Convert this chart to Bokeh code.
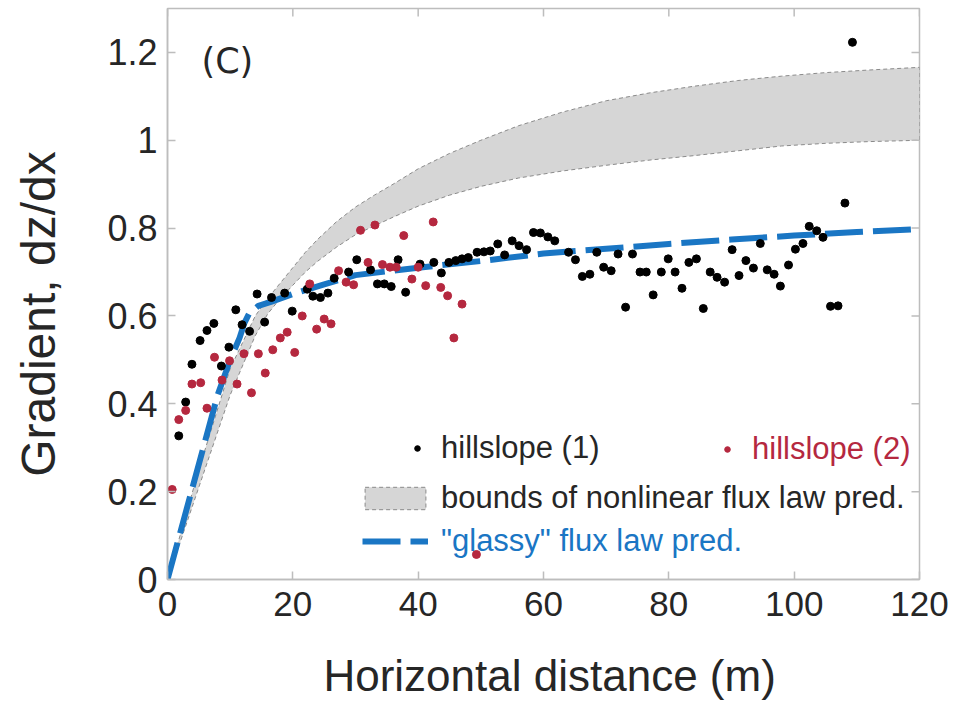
from bokeh.plotting import figure
from bokeh.models import (Range1d, FixedTicker, Label, Legend, LegendItem,
                          NumeralTickFormatter)
from bokeh.embed import file_html
from bokeh.resources import INLINE

# ---------------- data ----------------
x_ticks = [0, 20, 40, 60, 80, 100, 120]
y_ticks = [0, 0.2, 0.4, 0.6, 0.8, 1, 1.2]
y_tick_labels = ["0", "0.2", "0.4", "0.6", "0.8", "1", "1.2"]

h1_x = [1.8, 2.9, 3.9, 5.2, 6.3, 7.4, 8.6, 9.8, 10.9, 11.9, 13.1, 14.3, 15.5,
        16.6, 18.7, 19.9, 22.3, 23.2, 24.4, 25.6, 26.6, 28.9, 30.2, 32.4, 33.5,
        34.6, 35.7, 36.8, 38.0, 40.3, 42.5, 43.7, 44.9, 46.0, 47.0, 48.0, 49.4,
        50.5, 51.5, 52.7, 53.8, 55.0, 56.1, 57.3, 58.4, 59.5, 60.7, 61.8, 64.0,
        65.1, 66.2, 67.4, 68.5, 69.6, 70.8, 71.9, 73.1, 74.2, 75.4, 76.4, 77.5,
        78.8, 79.9, 81.0, 82.1, 83.2, 84.4, 85.5, 86.6, 87.7, 88.9, 90.1, 91.2,
        92.3, 93.5, 94.6, 95.7, 96.8, 97.8, 99.1, 100.2, 101.4, 102.4, 103.6,
        104.6, 105.8, 107.0, 108.1, 109.3]
h1_y = [0.327, 0.404, 0.49, 0.544, 0.567, 0.583, 0.486, 0.529, 0.614, 0.58,
        0.565, 0.65, 0.586, 0.642, 0.652, 0.611, 0.661, 0.645, 0.642, 0.652,
        0.686, 0.70, 0.728, 0.705, 0.673, 0.673, 0.667, 0.728, 0.654, 0.718,
        0.722, 0.698, 0.722, 0.726, 0.73, 0.733, 0.745, 0.746, 0.748, 0.764,
        0.739, 0.771, 0.76, 0.751, 0.79, 0.789, 0.78, 0.771, 0.745, 0.728,
        0.69, 0.695, 0.745, 0.711, 0.703, 0.741, 0.62, 0.741, 0.70, 0.70,
        0.648, 0.70, 0.73, 0.70, 0.663, 0.722, 0.73, 0.617, 0.70, 0.688,
        0.677, 0.751, 0.692, 0.726, 0.709, 0.765, 0.705, 0.695, 0.668, 0.716,
        0.752, 0.765, 0.804, 0.794, 0.779, 0.622, 0.623, 0.857, 1.223]

h2_x = [0.75, 1.8, 2.9, 3.9, 5.3, 6.3, 7.5, 8.7, 9.9, 11.1, 12.2, 13.4, 14.5,
        15.6, 16.8, 18.0, 19.1, 20.3, 21.5, 22.7, 23.8, 25.0, 26.1, 27.3, 28.5,
        29.7, 30.8, 32.0, 33.1, 34.3, 35.5, 36.5, 37.7, 39.0, 40.0, 41.2, 42.4,
        43.6, 44.7, 45.7, 47.0, 49.3]
h2_y = [0.205, 0.364, 0.385, 0.445, 0.448, 0.39, 0.506, 0.454, 0.498, 0.445,
        0.514, 0.425, 0.514, 0.47, 0.523, 0.55, 0.563, 0.517, 0.60, 0.673,
        0.57, 0.593, 0.582, 0.703, 0.677, 0.671, 0.795, 0.722, 0.807, 0.717,
        0.711, 0.711, 0.783, 0.684, 0.711, 0.669, 0.814, 0.665, 0.646, 0.55,
        0.627, 0.057]

band_x = [0, 5, 10, 14, 16, 18, 20, 22, 24, 27, 30, 33, 36, 40, 45, 50, 56,
          63, 70, 77, 84, 91, 98, 105, 112, 120]
band_upper = [0, 0.25, 0.48, 0.6, 0.64, 0.675, 0.71, 0.745, 0.775, 0.815,
              0.848, 0.875, 0.9, 0.935, 0.97, 1.0, 1.033, 1.064, 1.09, 1.108,
              1.123, 1.136, 1.146, 1.154, 1.16, 1.166]
band_lower = [0, 0.21, 0.42, 0.555, 0.605, 0.64, 0.67, 0.7, 0.725, 0.757,
              0.785, 0.805, 0.825, 0.85, 0.875, 0.895, 0.914, 0.93, 0.943,
              0.955, 0.965, 0.976, 0.987, 0.993, 0.997, 1.0]

glassy_x = [0, 4, 8, 10, 11.5, 12.3, 13, 14.5, 16.5, 20, 25, 30, 40, 50, 60,
            70, 80, 90, 100, 110, 120]
glassy_y = [0, 0.21, 0.42, 0.5, 0.55, 0.585, 0.605, 0.623, 0.632, 0.65, 0.672,
            0.693, 0.71, 0.725, 0.742, 0.753, 0.764, 0.774, 0.783, 0.791, 0.798]

# ---------------- styling ----------------
FONT = "Liberation Sans"
AX_GRAY = "#bdbdbd"
TXT = "#262626"
RED = "#b5283f"
BLUE = "#1a76c4"
X0, X1, Y0, Y1 = 0, 120, 0, 1.3
FRAME_W, FRAME_H = 752, 574
TICK_PX = 8

p = figure(width=955, height=702, x_range=Range1d(X0, X1),
           y_range=Range1d(Y0, Y1), output_backend="svg",
           toolbar_location=None, min_border_left=167, min_border_right=36,
           min_border_top=8, min_border_bottom=120)
p.background_fill_color = "white"
p.border_fill_color = "white"
p.outline_line_color = AX_GRAY
p.outline_line_width = 1.5
p.grid.visible = False

band_xs = band_x + band_x[::-1]
band_ys = band_upper + band_lower[::-1]
r_band = p.patch(band_xs, band_ys, fill_color="#d6d6d6", line_color="#8a8a8a",
                 line_width=1, line_dash="4 3")
r_glassy = p.line(glassy_x, glassy_y, line_color=BLUE, line_width=6,
                  line_dash="38 10")
r_h1 = p.scatter(h1_x, h1_y, size=8, color="black")
r_h2 = p.scatter(h2_x, h2_y, size=8, color=RED)

# inward ticks on the top and right edges of the box
dy = TICK_PX * (Y1 - Y0) / FRAME_H
dx = TICK_PX * (X1 - X0) / FRAME_W
p.segment(x0=x_ticks, y0=[Y1] * len(x_ticks), x1=x_ticks,
          y1=[Y1 - dy] * len(x_ticks), line_color=AX_GRAY, line_width=1.5)
p.segment(x0=[X1] * len(y_ticks), y0=y_ticks, x1=[X1 - dx] * len(y_ticks),
          y1=y_ticks, line_color=AX_GRAY, line_width=1.5)

# main axes
p.xaxis.ticker = FixedTicker(ticks=x_ticks)
p.yaxis.ticker = FixedTicker(ticks=y_ticks)
p.yaxis.formatter = NumeralTickFormatter(format="0.[0]")
p.yaxis.major_label_overrides = {t: l for t, l in zip(y_ticks, y_tick_labels)}

for ax in list(p.xaxis) + list(p.yaxis):
    ax.axis_line_color = AX_GRAY
    ax.axis_line_width = 1.5
    ax.major_tick_line_color = AX_GRAY
    ax.major_tick_line_width = 1.5
    ax.major_tick_in = TICK_PX
    ax.major_tick_out = 0
    ax.minor_tick_line_color = None
    ax.major_label_text_font = FONT
    ax.major_label_text_color = TXT
    ax.axis_label_text_font = FONT
    ax.axis_label_text_font_style = "normal"
    ax.axis_label_text_color = TXT

p.xaxis.major_label_text_font_size = "35px"
p.xaxis.major_label_standoff = 12
p.xaxis.axis_label = "\u00a0Horizontal distance (m)"
p.xaxis.axis_label_text_font_size = "44px"
p.xaxis.axis_label_standoff = 32

p.yaxis.major_label_text_font_size = "36px"
p.yaxis.major_label_standoff = 10
p.yaxis.axis_label = "Gradient, dz/dx\u00a0\u00a0\u00a0"
p.yaxis.axis_label_text_font_size = "48px"
p.yaxis.axis_label_standoff = 39

p.add_layout(Label(x=34, y=519, x_units="screen", y_units="screen",
                   text="(C)", text_align="left", text_baseline="middle",
                   text_font="DejaVu Sans", text_font_size="35px",
                   text_color=TXT))


def add_legend(label, rend, loc, color, gw, gh, standoff):
    lg = Legend(items=[LegendItem(label=label, renderers=[rend])],
                location=loc, glyph_width=gw, glyph_height=gh,
                label_height=gh, label_standoff=standoff, padding=0,
                margin=0, spacing=0, border_line_color=None,
                background_fill_alpha=0, label_text_font=FONT,
                label_text_font_size="31px", label_text_color=color)
    p.add_layout(lg)


add_legend("hillslope (1)", r_h1, (243, 113), TXT, 14, 30, 17)
add_legend("hillslope (2)", r_h2, (553, 112), RED, 14, 30, 18)
add_legend("bounds of nonlinear flux law pred.", r_band, (190, 63), TXT, 76,
           28, 8)
add_legend('"glassy" flux law pred.', r_glassy, (195, 20), BLUE, 66, 30, 13)

open("out.html", "w").write(file_html(p, INLINE))
